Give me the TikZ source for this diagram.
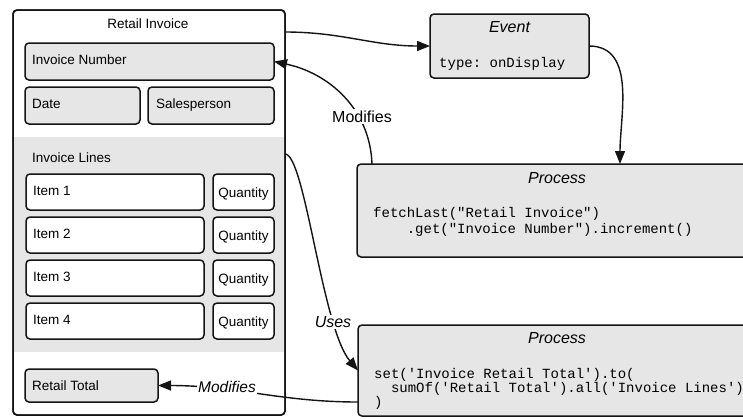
\documentclass[tikz,border=0pt]{standalone}
\usepackage{fontspec}
\setmainfont{Liberation Sans}
\setmonofont{Liberation Mono}
\usetikzlibrary{arrows.meta,calc}

\definecolor{boxgray}{HTML}{E6E6E6}
\definecolor{ink}{HTML}{141414}

\begin{document}
\begin{tikzpicture}[x=1pt,y=1pt,
  frame/.style={draw=ink, line width=1.5pt, rounded corners=4pt, inner sep=0pt, outer sep=0pt, anchor=north west},
  field/.style={frame, fill=boxgray},
  entry/.style={frame, fill=white},
  txt/.style={font=\fontsize{13.5}{16}\selectfont, inner sep=0pt, anchor=base west},
  ctxt/.style={font=\fontsize{13.5}{16}\selectfont, inner sep=0pt, anchor=base},
  title/.style={font=\fontsize{16}{19}\selectfont\itshape, inner sep=0pt, anchor=base},
  code/.style={font=\fontsize{14}{16}\selectfont\ttfamily, inner sep=0pt, anchor=base west},
  edgelbl/.style={font=\fontsize{16}{19}\selectfont, fill=white, inner sep=1.5pt, anchor=base},
  conn/.style={draw=ink, line width=1.4pt, -{Triangle[length=13pt,width=10pt]}},
  ]
\useasboundingbox (0,0) rectangle (743,-418);
\clip (0,0) rectangle (743,-418);

% --- Retail Invoice form ---
\node[entry, minimum width=272pt, minimum height=405pt] (inv) at (13,-10) {};
\node[fill=boxgray, inner sep=0pt, outer sep=0pt, anchor=north west,
      minimum width=270.5pt, minimum height=215pt] (lines) at (13.75,-137) {};
\draw[draw=ink, line width=1.5pt, rounded corners=4pt] (inv.north west) rectangle (inv.south east);
\node[ctxt] (invT) at (148,-28) {Retail Invoice};

\node[field, minimum width=249pt, minimum height=37pt] (num) at (25,-43) {};
\node[txt] (numT) at (32,-64) {Invoice Number};
\node[field, minimum width=115pt, minimum height=37pt] (date) at (25,-87) {};
\node[txt] (dateT) at (32,-108) {Date};
\node[field, minimum width=126pt, minimum height=37pt] (sales) at (148,-87) {};
\node[txt] (salesT) at (156,-108) {Salesperson};

\node[txt] (linesT) at (32,-162) {Invoice Lines};
\foreach \i/\y in {1/174,2/217,3/260,4/303}{
  \node[entry, minimum width=178pt, minimum height=36pt] (item\i) at (26,-\y) {};
  \node[txt] (item\i T) at ($(item\i.north west)+(7,-21)$) {Item \i};
  \node[entry, minimum width=61pt, minimum height=36pt] (qty\i) at (213,-\y) {};
  \node[ctxt] (qty\i T) at ($(qty\i.north)+(0,-23)$) {Quantity};
}

\node[field, minimum width=133pt, minimum height=33pt] (rt) at (25,-369) {};
\node[txt] (rtT) at (32,-390) {Retail Total};

% --- Event ---
\node[field, minimum width=159pt, minimum height=64pt] (ev) at (430,-14) {};
\node[title] (evT) at (509.5,-32) {Event};
\node[code] (evC) at (439,-67) {type: onDisplay};

% --- Process: increment invoice number ---
\node[field, minimum width=400pt, minimum height=93pt] (p1) at (357,-164) {};
\node[title] (p1T) at (557,-183) {Process};
\node[code] (p1a) at (373,-217) {fetchLast("Retail Invoice")};
\node[code] (p1b) at (373,-233) {\hphantom{0000}.get("Invoice Number").increment()};

% --- Process: sum of line totals ---
\node[field, minimum width=400pt, minimum height=91pt] (p2) at (358,-325) {};
\node[title] (p2T) at (557,-343) {Process};
\node[code] (p2a) at (374,-378) {set('Invoice Retail Total').to(};
\node[code] (p2b) at (374,-392) {\hphantom{00}sumOf('Retail Total').all('Invoice Lines')};
\node[code] (p2c) at (374,-406) {)};

% --- connectors ---
\coordinate (invOut) at ($(inv.north east)+(0,-22)$);
\draw[conn] (invOut) to[out=0,in=180] (ev.west);

\coordinate (p1In) at ($(p1.north west)+(263,0)$);
\draw[conn] (ev.east) to[out=0,in=90] (p1In);

\coordinate (p1Out) at ($(p1.north west)+(15,0)$);
\draw[conn] (p1Out) to[out=92,in=-12] (num.east);

\coordinate (linesOut) at ($(lines.north east)+(0.75,-17)$);
\draw[conn] (linesOut) .. controls (305,-154) and (322,-328) .. (p2.west);

\coordinate (p2Out) at ($(p2.north west)+(0,-77)$);
\draw[conn] (p2Out) to[out=180,in=0] (rt.east);

% --- connector labels ---
\node[edgelbl] (modTop) at (362,-122) {Modifies};
\node[edgelbl, font=\fontsize{16}{19}\selectfont\itshape] (usesL) at (333,-327) {Uses};
\node[edgelbl, font=\fontsize{15.5}{19}\selectfont\itshape] (modBot) at (227,-392) {Modifies};
\end{tikzpicture}
\end{document}
